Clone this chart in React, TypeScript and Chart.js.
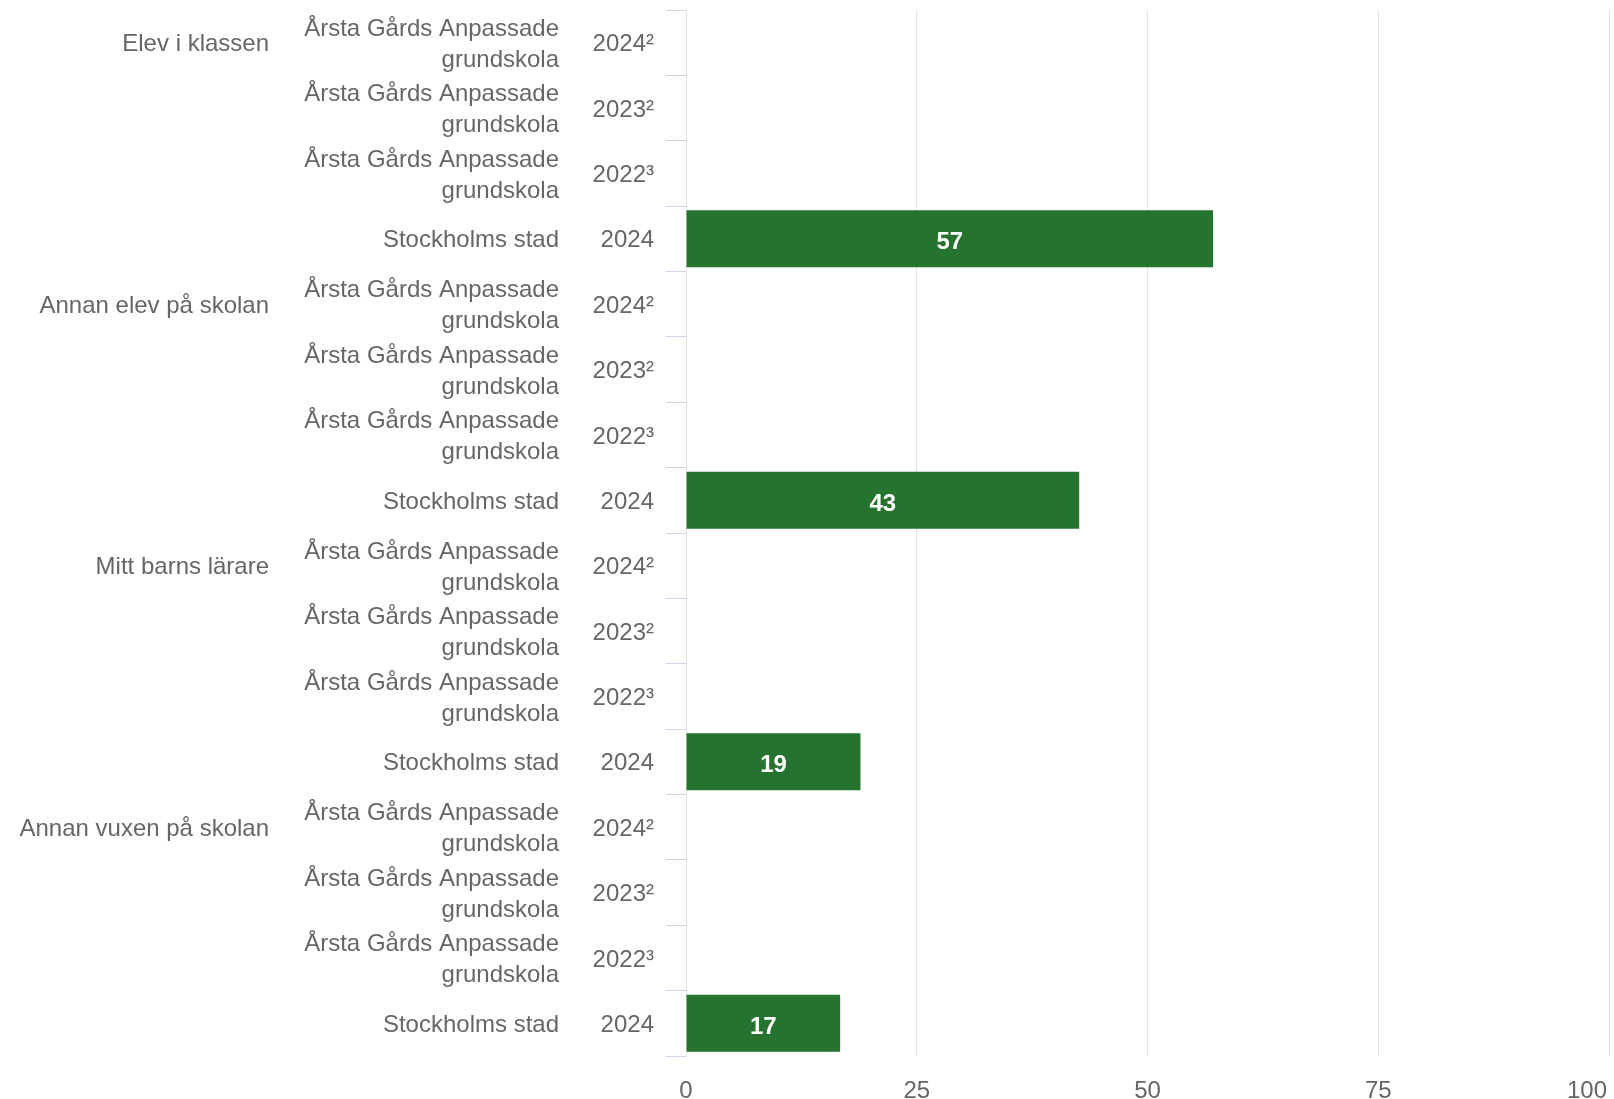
import React, { useEffect, useRef } from "react";
import { Chart, registerables } from "chart.js";

Chart.register(...registerables);

const groups = ["Elev i klassen", "Annan elev på skolan", "Mitt barns lärare", "Annan vuxen på skolan"];
const entityLines: string[][] = [
  ["Årsta Gårds Anpassade", "grundskola"],
  ["Årsta Gårds Anpassade", "grundskola"],
  ["Årsta Gårds Anpassade", "grundskola"],
  ["Stockholms stad"],
];
const years = ["2024²", "2023²", "2022³", "2024"];

const elevIKlassen: (number | null)[] = [null, null, null, 57.1];
const annanElev: (number | null)[] = [null, null, null, 42.6];
const mittBarnsLarare: (number | null)[] = [null, null, null, 18.9];
const annanVuxen: (number | null)[] = [null, null, null, 16.7];

const xTicks = [0, 25, 50, 75, 100];

const FONT = "'Liberation Sans', Arial, Helvetica, sans-serif";
const TEXT = "#666666";
const BAR = "#26722f";

export default function App() {
  const ref = useRef<HTMLCanvasElement | null>(null);

  useEffect(() => {
    if (!ref.current) return;
    const groupValues = [elevIKlassen, annanElev, mittBarnsLarare, annanVuxen];
    const labels: string[] = [];
    const data: (number | null)[] = [];
    groupValues.forEach((vals) => {
      vals.forEach((v, j) => {
        labels.push(years[j]);
        data.push(v);
      });
    });

    const labelsPlugin = {
      id: "customLabels",
      afterDraw(chart: any) {
        const ctx = chart.ctx;
        const yScale = chart.scales.y;
        const xScale = chart.scales.x;
        ctx.save();
        ctx.font = `24px ${FONT}`;
        ctx.fillStyle = TEXT;
        ctx.textAlign = "right";
        ctx.textBaseline = "middle";
        const per = entityLines.length;
        for (let i = 0; i < labels.length; i++) {
          const y = yScale.getPixelForValue(i) + 2;
          const j = i % per;
          const lines = entityLines[j];
          const lh = 31;
          const start = y - ((lines.length - 1) * lh) / 2;
          lines.forEach((ln, k) => ctx.fillText(ln, 559, start + k * lh));
          if (j === 0) {
            ctx.fillText(groups[Math.floor(i / per)], 269, y);
          }
        }
        // x tick labels
        ctx.textBaseline = "middle";
        xTicks.forEach((v, idx) => {
          const x = xScale.getPixelForValue(v);
          if (idx === xTicks.length - 1) {
            ctx.textAlign = "right";
            ctx.fillText(String(v), x - 2, 1091);
          } else {
            ctx.textAlign = "center";
            ctx.fillText(String(v), x, 1091);
          }
        });
        // bar value labels
        const meta = chart.getDatasetMeta(0);
        ctx.font = `bold 24px ${FONT}`;
        ctx.fillStyle = "#ffffff";
        ctx.textAlign = "center";
        meta.data.forEach((el: any, i: number) => {
          const v = data[i];
          if (v == null) return;
          ctx.fillText(String(Math.round(v)), (el.x + el.base) / 2, el.y + 4);
        });
        ctx.restore();
      },
    };

    const chart = new Chart(ref.current, {
      type: "bar",
      data: {
        labels,
        datasets: [
          {
            data,
            backgroundColor: BAR,
            borderWidth: 0,
            barPercentage: 1,
            categoryPercentage: 0.873,
          },
        ],
      },
      options: {
        indexAxis: "y",
        animation: false,
        responsive: false,
        maintainAspectRatio: false,
        layout: { padding: { left: 0, top: 10, right: 5, bottom: 0 } },
        plugins: {
          legend: { display: false },
          tooltip: { enabled: false },
          title: { display: false },
        },
        scales: {
          x: {
            min: 0,
            max: 100,
            ticks: { display: false, stepSize: 25 },
            grid: { color: "#e4e4e4", lineWidth: 1, drawTicks: false },
            border: { display: false },
            afterFit(scale: any) {
              scale.height = 43;
              scale.paddingLeft = 0;
              scale.paddingRight = 0;
            },
          },
          y: {
            ticks: {
              autoSkip: false,
              padding: 12,
              labelOffset: 2,
              color: TEXT,
              font: { family: FONT, size: 24 },
            },
            grid: {
              display: true,
              drawOnChartArea: false,
              drawTicks: true,
              tickLength: 20,
              color: "#ccd6eb",
              lineWidth: 1,
              offset: true,
            },
            border: { display: false },
            afterFit(scale: any) {
              scale.width = 686;
              scale.paddingTop = 0;
              scale.paddingBottom = 0;
            },
          },
        },
      },
      plugins: [labelsPlugin],
    } as any);

    return () => chart.destroy();
  }, []);

  return (
    <div style={{ position: "fixed", top: 0, left: 0, width: 1614, height: 1099, background: "#ffffff" }}>
      <canvas ref={ref} width={1614} height={1099} style={{ display: "block" }} />
    </div>
  );
}
